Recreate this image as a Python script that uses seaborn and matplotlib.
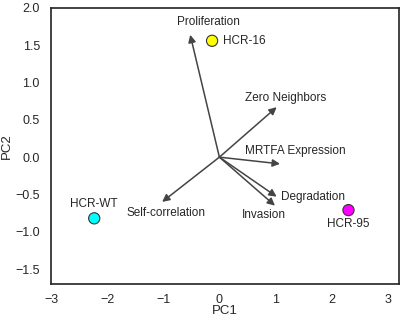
import numpy as np
import matplotlib
matplotlib.use('Agg')
import matplotlib.pyplot as plt
import seaborn as sns
import pandas as pd

sns.set_style('white')
plt.rcParams['font.family'] = ['Liberation Sans', 'DejaVu Sans']
plt.rcParams['font.size'] = 8.5

# samples (PC scores)
samples = ['HCR-16', 'HCR-WT', 'HCR-95']
pc1 = [-0.13, -2.23, 2.30]
pc2 = [1.56, -0.82, -0.71]
sample_colors = ['#ffff00', '#00ffff', '#ff00ff']

# loadings (arrow tips)
features = ['Proliferation', 'Zero Neighbors', 'MRTFA Expression',
            'Degradation', 'Invasion', 'Self-correlation']
load1 = [-0.52, 1.02, 1.08, 1.02, 0.99, -1.02]
load2 = [1.64, 0.67, -0.09, -0.53, -0.65, -0.60]

df = pd.DataFrame({'PC1': pc1, 'PC2': pc2, 'sample': samples})

fig = plt.figure(figsize=(4, 3.18), dpi=100)
ax = fig.add_axes([0.1275, 0.107, 0.87, 0.868])

# arrows for loadings
for fx, fy in zip(load1, load2):
    ax.annotate('', xy=(fx, fy), xytext=(0, 0),
                arrowprops=dict(arrowstyle='-|>', color='#444444', lw=1.1,
                                mutation_scale=11, shrinkA=0, shrinkB=0))

sns.scatterplot(data=df, x='PC1', y='PC2', hue='sample', palette=sample_colors,
                s=65, edgecolor='#333333', linewidth=0.8, legend=False, ax=ax, zorder=3)

# feature labels
feat_pos = {'Proliferation': (-0.2, 1.81, 'center'),
            'Zero Neighbors': (0.45, 0.79, 'left'),
            'MRTFA Expression': (0.45, 0.08, 'left'),
            'Degradation': (1.1, -0.54, 'left'),
            'Invasion': (0.8, -0.77, 'center'),
            'Self-correlation': (-1.65, -0.75, 'left')}
for name in features:
    tx, ty, ha = feat_pos[name]
    ax.text(tx, ty, name, ha=ha, va='center')

# sample labels
ax.text(0.07, 1.56, 'HCR-16', ha='left', va='center')
ax.text(-2.23, -0.63, 'HCR-WT', ha='center', va='center')
ax.text(2.30, -0.89, 'HCR-95', ha='center', va='center')

ax.set_xlim(-3, 3.2)
ax.set_ylim(-1.7, 2.0)
ax.set_xticks([-3, -2, -1, 0, 1, 2, 3])
ax.set_yticks([-1.5, -1.0, -0.5, 0.0, 0.5, 1.0, 1.5, 2.0])
ax.set_yticklabels(['−1.5', '−1.0', '−0.5', '0.0', '0.5', '1.0', '1.5', '2.0'])
ax.set_xticklabels(['−3', '−2', '−1', '0', '1', '2', '3'])
ax.tick_params(labelsize=9, length=0)
ax.tick_params(axis='y', pad=8)
ax.tick_params(axis='x', pad=7)
ax.set_xlabel('PC1', fontsize=9.5, labelpad=-0.5)
ax.set_ylabel('PC2', fontsize=9.5, labelpad=2)
for sp in ax.spines.values():
    sp.set_color('#222222')
    sp.set_linewidth(1.2)

fig.savefig('out.png', dpi=100)
